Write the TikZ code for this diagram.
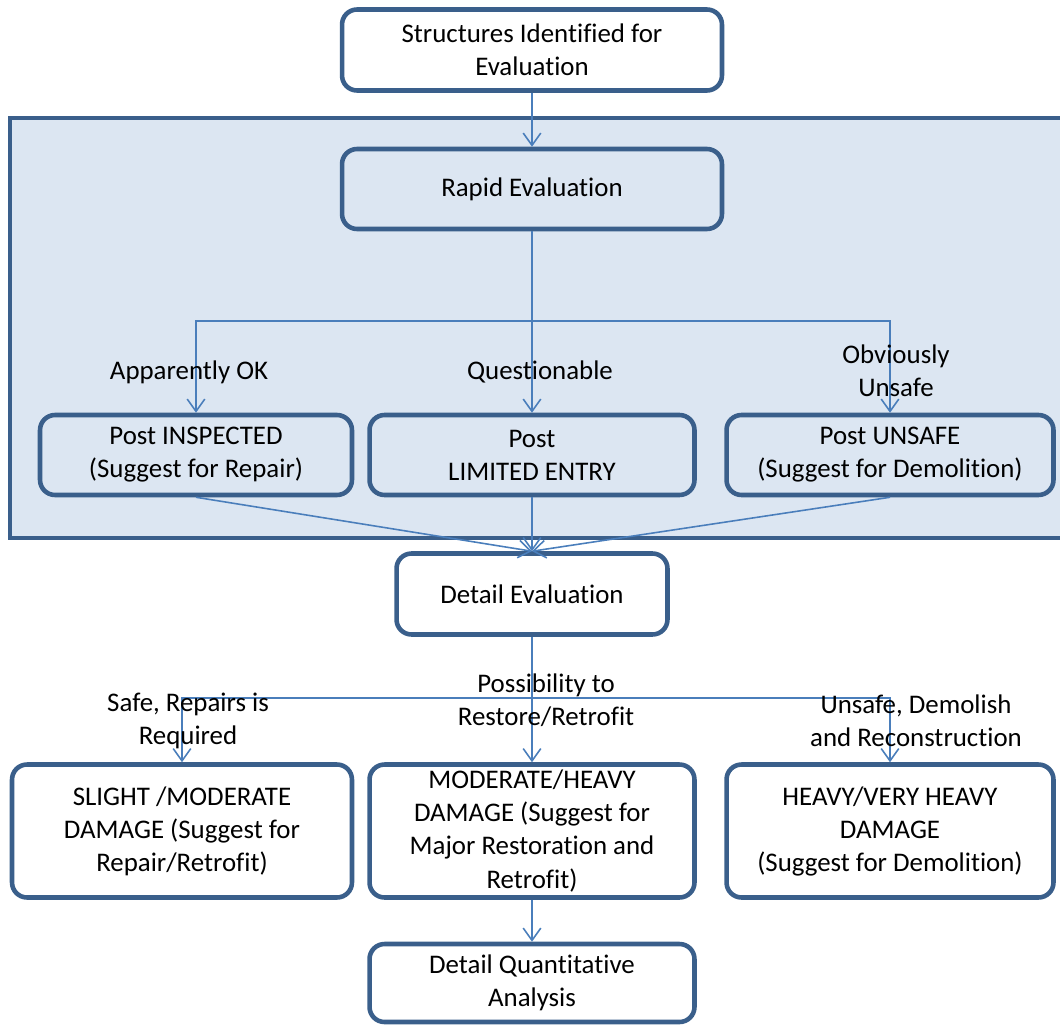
\documentclass[tikz,border=0pt]{standalone}
\usepackage{fontspec}
\setmainfont{Carlito}[Ligatures=NoCommon]
\usetikzlibrary{arrows.meta}

\definecolor{boxline}{RGB}{58,95,139}
\definecolor{arrline}{RGB}{74,126,187}
\definecolor{panel}{RGB}{220,230,242}

\begin{document}
\begin{tikzpicture}[x=0.02cm,y=-0.02cm,
  stage/.style={draw=boxline,line width=2.6pt,rounded corners=0.3cm,fill=white,
    align=center,inner sep=2pt,font=\fontsize{15.3}{18.8}\selectfont},
  tag/.style={align=center,font=\fontsize{15.3}{18.8}\selectfont},
  arr/.style={draw=arrline,line width=0.9pt,-{Straight Barb[length=7pt,width=10pt]}},
  ln/.style={draw=arrline,line width=0.9pt}]

  \useasboundingbox (0,0) rectangle (1060,1027);

  % shaded rapid evaluation panel
  \draw[boxline,line width=2.6pt,fill=panel] (10,118) rectangle (1070,538);

  \node[stage,minimum width=7.6cm,minimum height=1.62cm] (struct) at (532,50)
    {Structures Identified for\\Evaluation};
  \node[stage,fill=panel,minimum width=7.6cm,minimum height=1.6cm] (rapid) at (532,189)
    {Rapid Evaluation};

  \node[stage,fill=panel,minimum width=6.24cm,minimum height=1.6cm] (inspected) at (196,455)
    {Post INSPECTED\\(Suggest for Repair)};
  \node[stage,fill=panel,minimum width=6.5cm,minimum height=1.6cm] (limited) at (532,455)
    {Post\\LIMITED ENTRY};
  \node[stage,fill=panel,minimum width=6.54cm,minimum height=1.6cm] (unsafe) at (890,455)
    {Post UNSAFE\\(Suggest for Demolition)};

  \node[stage,minimum width=5.42cm,minimum height=1.62cm] (detail) at (532,594)
    {Detail Evaluation};

  \node[stage,minimum width=6.8cm,minimum height=2.66cm] (slight) at (182,831)
    {SLIGHT /MODERATE\\DAMAGE (Suggest for\\Repair/Retrofit)};
  \node[stage,minimum width=6.5cm,minimum height=2.66cm] (modheavy) at (532,831)
    {MODERATE/HEAVY\\DAMAGE (Suggest for\\Major Restoration and\\Retrofit)};
  \node[stage,minimum width=6.54cm,minimum height=2.66cm] (veryheavy) at (890,831)
    {HEAVY/VERY HEAVY\\DAMAGE\\(Suggest for Demolition)};

  \node[stage,minimum width=6.5cm,minimum height=1.56cm] (quant) at (532,983)
    {Detail Quantitative\\Analysis};

  \coordinate (split1) at (532,321);
  \coordinate (split2) at (532,698);

  % connectors
  \draw[arr] (struct) -- (rapid);
  \draw[ln] (rapid) -- (split1);
  \draw[arr] (split1) -- (limited);
  \draw[arr] (split1) -| (inspected.north);
  \draw[arr] (split1) -| (unsafe.north);

  \draw[arr] (inspected.south) -- (detail.north);
  \draw[arr] (limited.south) -- (detail.north);
  \draw[arr] (unsafe.south) -- (detail.north);

  \draw[ln] (detail) -- (split2);
  \draw[arr] (split2) -- (modheavy);
  \draw[arr] (split2) -| (slight.north);
  \draw[arr] (split2) -| (veryheavy.north);
  \draw[arr] (modheavy) -- (quant);

  % branch labels
  \node[tag] (okTag) at (189,372) {Apparently OK};
  \node[tag] (questTag) at (540,372) {Questionable};
  \node[tag] (obvTag) at (896,371) {Obviously\\Unsafe};
  \node[tag] (safeTag) at (188,721) {Safe, Repairs is\\Required};
  \node[tag] (restTag) at (546,700) {Possibility to\\Restore/Retrofit};
  \node[tag] (demTag) at (916,721) {Unsafe, Demolish\\and Reconstruction};

\end{tikzpicture}
\end{document}
